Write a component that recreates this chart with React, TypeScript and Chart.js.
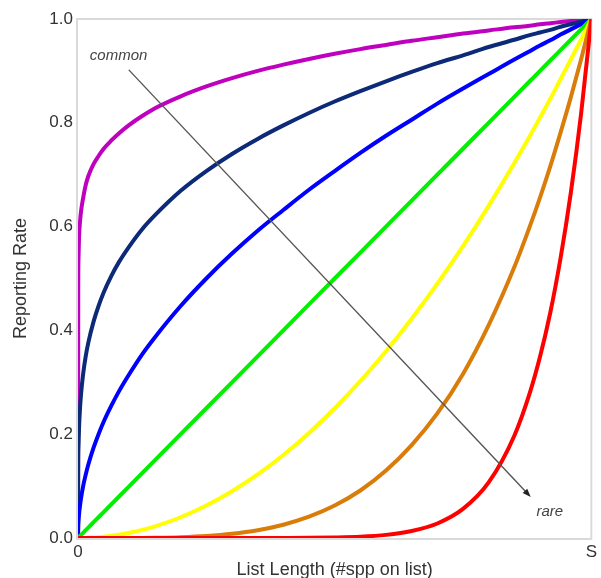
import React, { useEffect, useRef } from "react";
import { Chart, registerables } from "chart.js";

Chart.register(...registerables);

// Fraction of list length (0 .. S)
const xValues = [0, 0.0005, 0.001, 0.002, 0.004, 0.006, 0.01, 0.015, 0.02, 0.03, 0.04, 0.05, 0.065, 0.08, 0.1, 0.125, 0.15, 0.2, 0.25, 0.3, 0.35, 0.4, 0.45, 0.5, 0.55, 0.6, 0.65, 0.7, 0.75, 0.8, 0.85, 0.88, 0.9, 0.92, 0.94, 0.96, 0.98, 1];

const magentaSeries = [0, 0.48, 0.54, 0.58, 0.61, 0.63, 0.655, 0.68, 0.697, 0.72, 0.736, 0.75, 0.766, 0.78, 0.796, 0.813, 0.828, 0.851, 0.87, 0.886, 0.9, 0.912, 0.923, 0.933, 0.942, 0.95, 0.958, 0.965, 0.972, 0.978, 0.984, 0.987, 0.99, 0.992, 0.994, 0.996, 0.998, 1];
const navySeries = [0, 0.15, 0.178, 0.211, 0.251, 0.278, 0.316, 0.35, 0.376, 0.416, 0.447, 0.473, 0.505, 0.532, 0.562, 0.595, 0.622, 0.669, 0.707, 0.74, 0.769, 0.795, 0.819, 0.841, 0.861, 0.88, 0.898, 0.915, 0.93, 0.946, 0.96, 0.969, 0.974, 0.979, 0.985, 0.99, 0.995, 1];
const blueSeries = [0, 0.022, 0.032, 0.045, 0.063, 0.077, 0.1, 0.122, 0.141, 0.173, 0.2, 0.224, 0.255, 0.283, 0.316, 0.354, 0.387, 0.447, 0.5, 0.548, 0.592, 0.632, 0.671, 0.707, 0.742, 0.775, 0.806, 0.837, 0.866, 0.894, 0.922, 0.938, 0.949, 0.959, 0.97, 0.98, 0.99, 1];
const greenSeries = [0, 0.0005, 0.001, 0.002, 0.004, 0.006, 0.01, 0.015, 0.02, 0.03, 0.04, 0.05, 0.065, 0.08, 0.1, 0.125, 0.15, 0.2, 0.25, 0.3, 0.35, 0.4, 0.45, 0.5, 0.55, 0.6, 0.65, 0.7, 0.75, 0.8, 0.85, 0.88, 0.9, 0.92, 0.94, 0.96, 0.98, 1];
const yellowSeries = [0, 0, 0, 0, 0, 0, 0.0001, 0.0002, 0.0004, 0.0009, 0.0016, 0.0025, 0.0042, 0.0064, 0.01, 0.0156, 0.0225, 0.04, 0.0625, 0.09, 0.1225, 0.16, 0.2025, 0.25, 0.3025, 0.36, 0.4225, 0.49, 0.5625, 0.64, 0.7225, 0.774, 0.81, 0.846, 0.884, 0.922, 0.96, 1];
const orangeSeries = [0, 0, 0, 0, 0, 0, 0, 0, 0, 0, 0, 0, 0, 0, 0.0001, 0.0002, 0.0005, 0.0016, 0.0039, 0.0081, 0.015, 0.0256, 0.041, 0.0625, 0.0915, 0.13, 0.179, 0.24, 0.316, 0.41, 0.522, 0.6, 0.656, 0.716, 0.781, 0.849, 0.922, 1];
const redSeries = [0, 0, 0, 0, 0, 0, 0, 0, 0, 0, 0, 0, 0, 0, 0, 0, 0, 0, 0, 0, 0, 0.0001, 0.0003, 0.001, 0.0025, 0.006, 0.0135, 0.028, 0.056, 0.107, 0.197, 0.279, 0.349, 0.434, 0.539, 0.665, 0.817, 1];

const xTickLabels = ["0", "S"];
const yTickValues = [0, 0.2, 0.4, 0.6, 0.8, 1.0];

const arrowStart = { x: 0.099, y: 0.902 };
const arrowEnd = { x: 0.882, y: 0.079 };
const commonLabel = { text: "common", x: 0.023, y: 0.929 };
const rareLabel = { text: "rare", x: 0.893, y: 0.05 };

const seriesDefs = [
  { label: "red", data: redSeries, color: "#FF0000" },
  { label: "orange", data: orangeSeries, color: "#D97C0A" },
  { label: "yellow", data: yellowSeries, color: "#FFFF00" },
  { label: "green", data: greenSeries, color: "#00F000" },
  { label: "blue", data: blueSeries, color: "#0000FF" },
  { label: "navy", data: navySeries, color: "#0C2A78" },
  { label: "magenta", data: magentaSeries, color: "#BF00BF" },
];

const FONT = "'Liberation Sans', Arial, sans-serif";

export default function App() {
  const ref = useRef<HTMLCanvasElement | null>(null);

  useEffect(() => {
    document.body.style.margin = "0";
    const canvas = ref.current;
    if (!canvas) return;

    const decor = {
      id: "decor",
      beforeDatasetsDraw(chart: any) {
        const { ctx, chartArea } = chart;
        ctx.save();
        ctx.strokeStyle = "#DADADA";
        ctx.lineWidth = 2;
        ctx.strokeRect(chartArea.left - 1, chartArea.top, chartArea.right - chartArea.left + 1, chartArea.bottom - chartArea.top + 1);
        ctx.restore();
      },
      afterDatasetsDraw(chart: any) {
        const { ctx, scales } = chart;
        const xs = scales.x;
        const ys = scales.y;
        const x1 = xs.getPixelForValue(arrowStart.x);
        const y1 = ys.getPixelForValue(arrowStart.y);
        const x2 = xs.getPixelForValue(arrowEnd.x);
        const y2 = ys.getPixelForValue(arrowEnd.y);
        const ang = Math.atan2(y2 - y1, x2 - x1);
        const head = 9;
        ctx.save();
        ctx.strokeStyle = "#555";
        ctx.fillStyle = "#222";
        ctx.lineWidth = 1.4;
        ctx.beginPath();
        ctx.moveTo(x1, y1);
        ctx.lineTo(x2 - Math.cos(ang) * head * 0.8, y2 - Math.sin(ang) * head * 0.8);
        ctx.stroke();
        ctx.beginPath();
        ctx.moveTo(x2, y2);
        ctx.lineTo(x2 - head * Math.cos(ang - 0.35), y2 - head * Math.sin(ang - 0.35));
        ctx.lineTo(x2 - head * Math.cos(ang + 0.35), y2 - head * Math.sin(ang + 0.35));
        ctx.closePath();
        ctx.fill();
        ctx.font = "italic 15px " + FONT;
        ctx.fillStyle = "#444";
        ctx.textAlign = "left";
        ctx.textBaseline = "middle";
        ctx.fillText(commonLabel.text, xs.getPixelForValue(commonLabel.x), ys.getPixelForValue(commonLabel.y));
        ctx.fillText(rareLabel.text, xs.getPixelForValue(rareLabel.x), ys.getPixelForValue(rareLabel.y));
        ctx.restore();
      },
    };

    const chart = new Chart(canvas, {
      type: "line",
      data: {
        datasets: seriesDefs.map((s) => ({
          label: s.label,
          data: xValues.map((x, i) => ({ x, y: s.data[i] })),
          borderColor: s.color,
          backgroundColor: s.color,
          borderWidth: 4,
          pointRadius: 0,
          cubicInterpolationMode: "monotone" as const,
          fill: false,
        })),
      },
      options: {
        animation: false,
        responsive: false,
        maintainAspectRatio: false,
        layout: { padding: { left: 0, right: 7, top: 19, bottom: 0 } },
        plugins: { legend: { display: false }, tooltip: { enabled: false } },
        scales: {
          x: {
            type: "linear",
            min: 0,
            max: 1,
            grid: { display: false, drawTicks: false },
            border: { display: false },
            afterBuildTicks: (scale: any) => {
              scale.ticks = [{ value: 0 }, { value: 1 }];
            },
            afterFit: (scale: any) => {
              scale.height = 40;
            },
            ticks: {
              autoSkip: false,
              maxRotation: 0,
              padding: 4,
              color: "#333",
              font: { family: FONT, size: 17 },
              callback: (v: any) => (v === 0 ? xTickLabels[0] : xTickLabels[1]),
            },
            title: {
              display: true,
              text: "List Length (#spp on list)",
              color: "#333",
              font: { family: FONT, size: 18 },
              padding: { top: 0, bottom: -3 },
            },
          },
          y: {
            type: "linear",
            min: 0,
            max: 1,
            grid: { display: false, drawTicks: false },
            border: { display: false },
            afterBuildTicks: (scale: any) => {
              scale.ticks = yTickValues.map((v) => ({ value: v }));
            },
            afterFit: (scale: any) => {
              scale.width = 78;
            },
            ticks: {
              autoSkip: false,
              padding: 5,
              color: "#333",
              font: { family: FONT, size: 17 },
              callback: (v: any) => Number(v).toFixed(1),
            },
            title: {
              display: true,
              text: "Reporting Rate",
              color: "#333",
              font: { family: FONT, size: 18 },
              padding: { top: 10, bottom: 0 },
            },
          },
        },
      },
      plugins: [decor],
    });

    return () => chart.destroy();
  }, []);

  return (
    <div style={{ width: 601, height: 578 }}>
      <canvas ref={ref} width={601} height={578} style={{ display: "block" }} />
    </div>
  );
}
